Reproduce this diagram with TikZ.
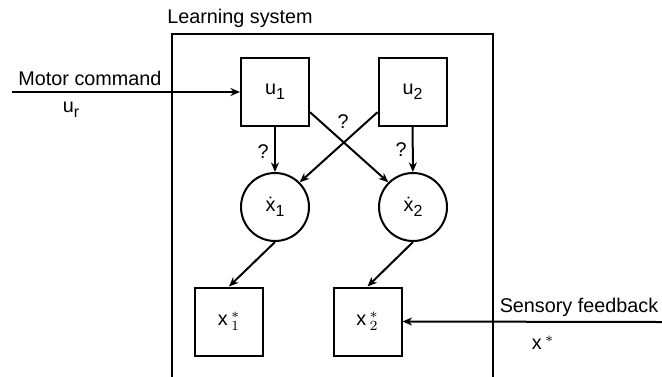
\documentclass[tikz,border=0pt]{standalone}
\usepackage{fontspec}
\setmainfont{Liberation Sans}
\usetikzlibrary{positioning, arrows.meta}
% lowered index in the text font, a bit larger than \textsubscript
\newcommand{\lowidx}[1]{\raisebox{-0.45ex}{\fontsize{8}{9}\selectfont#1}}

\begin{document}
\begin{tikzpicture}[
  x=0.5pt, y=-0.5pt,
  >={Stealth[length=4.8pt, width=4pt]},
  flow/.style={->, draw=black, line width=1pt},
  block/.style={draw, line width=1pt, minimum size=34pt, inner sep=0pt},
  rate/.style={draw, circle, line width=1pt, minimum size=34pt, inner sep=0pt},
  every node/.style={font=\fontsize{9.9}{12}\selectfont}
]
  \useasboundingbox (0,0) rectangle (662,376);

  % learning system frame (open at the bottom)
  \draw[line width=1.1pt] (172,390) -- (172,34) -- (493,34) -- (493,390);
  \node (title) at (240,18) {Learning system};

  \node[block] (u1) at (275,92) {u\lowidx{1}};
  \node[block] (u2) at (412.5,92) {u\lowidx{2}};
  \node[rate]  (xd1) at (275,207) {\.{x}\lowidx{1}};
  \node[rate]  (xd2) at (413,207) {\.{x}\lowidx{2}};
  \node[block] (xs1) at (229,321.5) {x\,$^{*}_{1}$};
  \node[block] (xs2) at (367.5,321.5) {x\,$^{*}_{2}$};

  % inputs from outside
  \coordinate (motor) at (12,92);
  \coordinate (sensor) at (662,322);
  \node (motorlabel) at (90,78) {Motor command};
  \node (motorsym) at (71,110) {u\lowidx{r}};
  \node (sensorlabel) at (579,307) {Sensory feedback};
  \node (sensorsym) at (543,343) {x\,$^{*}$};

  \draw[flow] (motor) -- (u1.west);
  \draw[flow] (sensor) -- (xs2.east);

  \draw[flow] (u1) -- (xd1);
  \draw[flow] (u2) -- (xd2);
  \draw[flow] (u1.-30) -- (xd2.135);
  \draw[flow] (u2.210) -- (xd1.45);
  \draw[flow] (xd1.south) -- (xs1.north);
  \draw[flow] (xd2.south) -- (xs2.north);

  \node (q1) at (263,152) {?};
  \node (q2) at (343,122) {?};
  \node (q3) at (401,150) {?};
\end{tikzpicture}
\end{document}
